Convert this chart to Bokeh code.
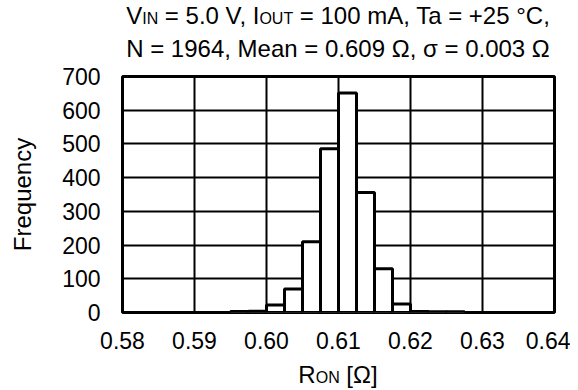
from bokeh.plotting import figure
from bokeh.models import FixedTicker, NumeralTickFormatter, Range1d, Div
from bokeh.layouts import column
from bokeh.embed import file_html
from bokeh.resources import INLINE

# ---- data ----
bin_lo = [0.5950, 0.5975, 0.6000, 0.6025, 0.6050, 0.6075, 0.6100,
          0.6125, 0.6150, 0.6175, 0.6200, 0.6225, 0.6250]
bin_hi = [0.5975, 0.6000, 0.6025, 0.6050, 0.6075, 0.6100, 0.6125,
          0.6150, 0.6175, 0.6200, 0.6225, 0.6250, 0.6275]
freq = [3, 4, 22, 70, 210, 486, 651, 356, 130, 25, 3, 2, 2]
x_ticks = [0.58, 0.59, 0.60, 0.61, 0.62, 0.63, 0.64]
y_ticks = [0, 100, 200, 300, 400, 500, 600, 700]
title_line1 = [("V", False), ("IN", True), (" = 5.0 V, I", False),
               ("OUT", True), (" = 100 mA, Ta = +25 °C,", False)]
title_line2 = [("N = 1964, Mean = 0.609 Ω, σ = 0.003 Ω", False)]
x_label = [("R", False), ("ON", True), (" [Ω]", False)]
y_label = "Frequency"

FONT = "Liberation Sans"
MAIN = 24
SUB = 16
TICK = 23
DIV_W = 560


def html_line(pieces):
    out = []
    for t, sub in pieces:
        t = t.replace("&", "&amp;").replace("<", "&lt;")
        if sub:
            out.append(f'<span style="font-size:{SUB}px">{t}</span>')
        else:
            out.append(t)
    return "".join(out)


def block(lines, pad_top):
    inner = "<br>".join(html_line(l) for l in lines)
    return (f'<div style="display:block;width:{DIV_W}px;'
            f'font-family:\'{FONT}\';font-size:{MAIN}px;'
            f'line-height:30px;color:#000;text-align:center;'
            f'white-space:nowrap;padding-top:{pad_top}px;margin:0;">'
            f'{inner}</div>')


title_div = Div(text=block([title_line1, title_line2], 1), width=DIV_W,
                height=64, margin=(0, 0, 0, 58))

p = figure(width=570, height=296, x_range=Range1d(0.58, 0.64),
           y_range=Range1d(0, 700), output_backend="svg",
           toolbar_location=None, min_border_left=122, min_border_right=16,
           min_border_top=12, min_border_bottom=48, margin=(0, 0, 0, 0))
p.background_fill_color = "white"
p.border_fill_color = "white"
p.outline_line_color = "black"
p.outline_line_width = 3
p.outline_line_alpha = 1.0

for ax in (p.xaxis[0], p.yaxis[0]):
    ax.axis_line_color = None
    ax.major_tick_line_color = None
    ax.minor_tick_line_color = None
    ax.major_tick_out = 0
    ax.major_tick_in = 0
    ax.major_label_text_font = FONT
    ax.major_label_text_font_size = f"{TICK}px"
    ax.major_label_text_color = "black"

p.xaxis.ticker = FixedTicker(ticks=x_ticks)
p.xaxis.formatter = NumeralTickFormatter(format="0.00")
p.xaxis.major_label_standoff = 19
p.yaxis.ticker = FixedTicker(ticks=y_ticks)
p.yaxis.major_label_standoff = 22
p.yaxis.axis_label = y_label
p.yaxis.axis_label_text_font = FONT
p.yaxis.axis_label_text_font_size = f"{MAIN}px"
p.yaxis.axis_label_text_font_style = "normal"
p.yaxis.axis_label_text_color = "black"
p.yaxis.axis_label_standoff = 23

p.xgrid.ticker = FixedTicker(ticks=x_ticks)
p.ygrid.ticker = FixedTicker(ticks=y_ticks)
for g in (p.xgrid[0], p.ygrid[0]):
    g.grid_line_color = "black"
    g.grid_line_width = 2
    g.grid_line_alpha = 1.0

p.quad(left=bin_lo, right=bin_hi, bottom=0, top=freq,
       fill_color="white", line_color="black", line_width=3)

xlabel_div = Div(text=block([x_label], 0), width=DIV_W, height=30,
                 margin=(0, 0, 0, 58))

layout = column(title_div, p, xlabel_div, spacing=0)

open("out.html", "w").write(file_html(layout, INLINE))
